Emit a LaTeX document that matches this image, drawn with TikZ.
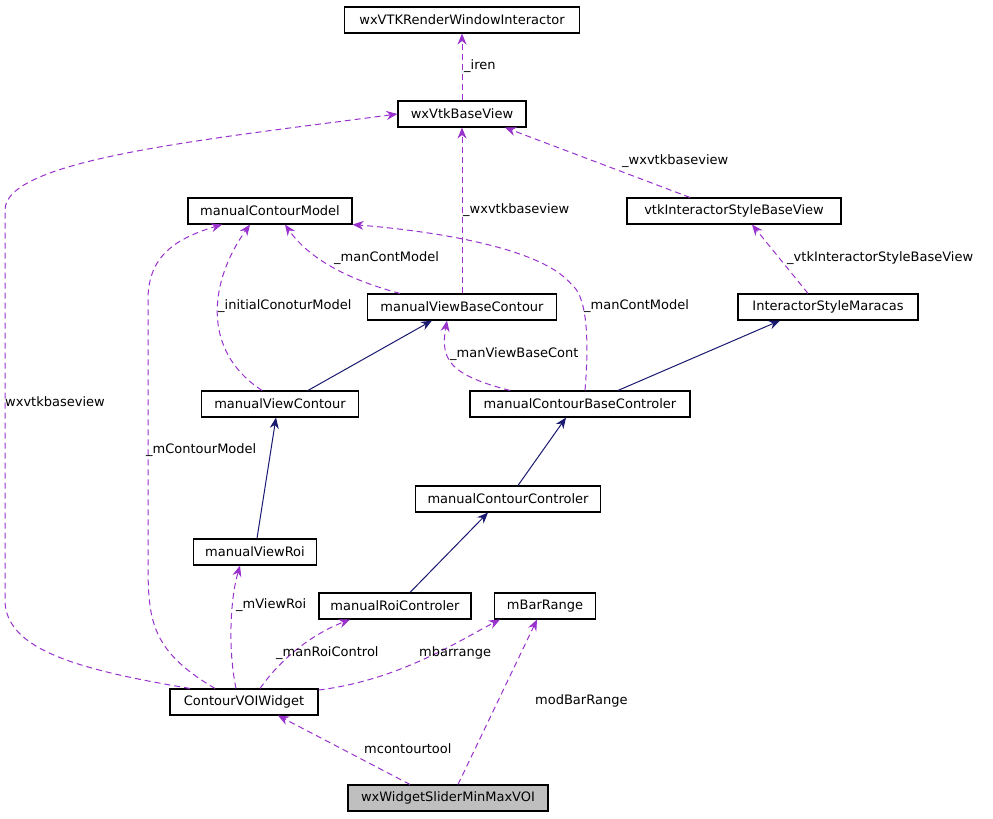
\documentclass[tikz,border=0pt]{standalone}
\usepackage{fontspec}
\setmainfont{DejaVu Sans}
\usetikzlibrary{arrows.meta}
\definecolor{usecol}{RGB}{153,50,204}
\definecolor{inhcol}{RGB}{25,25,112}
\begin{document}
\begin{tikzpicture}[x=1pt,y=-1pt,>={Stealth[length=11pt,width=9pt]},font=\fontsize{13}{15}\selectfont,
    cls/.style={draw,line width=1.1pt,fill=white,minimum height=26pt,inner sep=2pt},
    use/.style={->,dash pattern=on 6pt off 4pt,line width=1pt,draw=usecol,color=usecol},
    inh/.style={->,line width=1pt,draw=inhcol,color=inhcol},
    lbl/.style={text=black,inner sep=0pt,anchor=west}]
    \useasboundingbox (0,0) rectangle (993,819);
    % ------------------------------------------------------------------
    %                             NODES
    % ------------------------------------------------------------------
    \node[cls,minimum width=235pt] (rwi)  at (462,20)  {wxVTKRenderWindowInteractor};
    \node[cls,minimum width=128pt] (bv)   at (462,114) {wxVtkBaseView};
    \node[cls,minimum width=164pt] (mcm)  at (270,211) {manualContourModel};
    \node[cls,minimum width=214pt] (isbv) at (734,211) {vtkInteractorStyleBaseView};
    \node[cls,minimum width=189pt] (mvbc) at (462,307) {manualViewBaseContour};
    \node[cls,minimum width=180pt] (ism)  at (828,307) {InteractorStyleMaracas};
    \node[cls,minimum width=157pt] (mvc)  at (280,404) {manualViewContour};
    \node[cls,minimum width=220pt] (mcbc) at (580,404) {manualContourBaseControler};
    \node[cls,minimum width=185pt] (mcc)  at (508,499) {manualContourControler};
    \node[cls,minimum width=123pt] (mvr)  at (255,552) {manualViewRoi};
    \node[cls,minimum width=152pt] (mrc)  at (395,606) {manualRoiControler};
    \node[cls,minimum width=101pt] (mbr)  at (545,606) {mBarRange};
    \node[cls,minimum width=148pt] (cvw)  at (244,702) {ContourVOIWidget};
    \node[cls,minimum width=200pt,fill=black!25] (wsm) at (448,798) {wxWidgetSliderMinMaxVOI};
    % ------------------------------------------------------------------
    %                             EDGES
    % ------------------------------------------------------------------
    % inheritance
    \draw[inh] (mvc.north -| 308,0) -- (mvbc.south -| 432,0);
    \draw[inh] (mcbc.north -| 618,0) -- (ism.south -| 780,0);
    \draw[inh] (mvr.north -| 257,0) -- (mvc.south -| 276,0);
    \draw[inh] (mcc.north -| 518,0) -- (mcbc.south -| 566,0);
    \draw[inh] (mrc.north -| 410,0) -- (mcc.south -| 488,0);
    % usage
    \draw[use] (bv) -- (rwi);
    \draw[use] (isbv.north -| 690,0) -- (bv.south -| 505,0);
    \draw[use] (mvbc) -- (bv);
    \draw[use] (mvbc.north -| 400,0) .. controls (350,280) and (310,260) .. (mcm.south -| 285,0);
    \draw[use] (ism.north -| 808,0) -- (isbv.south -| 752,0);
    \draw[use] (mcbc.north -| 510,0) .. controls (450,375) and (440,360) .. (mvbc.south -| 447,0);
    \draw[use] (mcbc.north -| 585,0) .. controls (590,330) and (585,295) .. (572,285)
        .. controls (540,245) and (420,230) .. (mcm.south east);
    \draw[use] (mvc.north -| 262,0) .. controls (200,350) and (210,280) .. (mcm.south -| 250,0);
    \draw[use] (cvw.north -| 215,0) .. controls (150,650) and (148,620) .. (148,560)
        -- (148,300) .. controls (148,260) and (170,240) .. (mcm.south -| 222,0);
    \draw[use] (cvw.north -| 190,0) .. controls (80,670) and (5,650) .. (5,600)
        -- (5,210) .. controls (5,160) and (200,140) .. (bv.west);
    \draw[use] (cvw.north -| 236,0) .. controls (228,650) and (230,600) .. (mvr.south -| 240,0);
    \draw[use] (cvw.north -| 260,0) .. controls (280,660) and (310,635) .. (mrc.south -| 350,0);
    \draw[use] (cvw.east) ++(0,-12) .. controls (400,680) and (460,640) .. (mbr.south -| 500,0);
    \draw[use] (wsm.north -| 410,0) -- (cvw.south -| 278,0);
    \draw[use] (wsm.north -| 458,0) -- (mbr.south -| 537,0);
    % labels
    \node[lbl] (lbiren)  at (464,66)  {\_iren};
    \node[lbl] (lbwx1)   at (622,161) {\_wxvtkbaseview};
    \node[lbl] (lbwx2)   at (463,210) {\_wxvtkbaseview};
    \node[lbl] (lbmcm1)  at (334,258) {\_manContModel};
    \node[lbl] (lbvisb)  at (787,258) {\_vtkInteractorStyleBaseView};
    \node[lbl] (lbmcm2)  at (584,306) {\_manContModel};
    \node[lbl] (lbinit)  at (218,306) {\_initialConoturModel};
    \node[lbl] (lbmvbc)  at (450,354) {\_manViewBaseCont};
    \node[lbl] (lbwx3)   at (5,402)   {wxvtkbaseview};
    \node[lbl] (lbmcm3)  at (146,450) {\_mContourModel};
    \node[lbl] (lbroi)   at (236,605) {\_mViewRoi};
    \node[lbl] (lbrc)    at (276,653) {\_manRoiControl};
    \node[lbl] (lbbar)   at (419,653) {mbarrange};
    \node[lbl] (lbmod)   at (535,701) {modBarRange};
    \node[lbl] (lbtool)  at (364,749) {mcontourtool};
\end{tikzpicture}
\end{document}
